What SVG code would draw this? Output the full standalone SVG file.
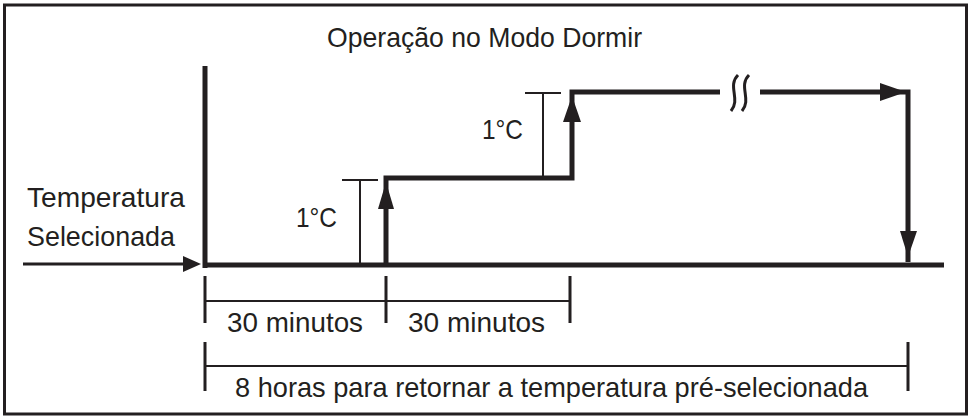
<svg xmlns="http://www.w3.org/2000/svg" width="969" height="417" viewBox="0 0 969 417">
<style>
text{font-family:"Liberation Sans",Arial,sans-serif;fill:#231f20;font-size:28px}
.thick{fill:none;stroke:#231f20;stroke-width:5;stroke-linecap:butt;stroke-linejoin:miter}
.thin{fill:none;stroke:#231f20;stroke-width:2}
.med{fill:none;stroke:#231f20;stroke-width:3}
.head{fill:#231f20}
</style>
<rect x="4.5" y="5" width="962" height="409" fill="#fff" stroke="#231f20" stroke-width="3"/>
<g id="title"><text x="327" y="47" font-size="33" textLength="315" lengthAdjust="spacingAndGlyphs">Operação no Modo Dormir</text></g>
<g id="label-temp">
<text x="27" y="207" textLength="158" lengthAdjust="spacingAndGlyphs">Temperatura</text>
<text x="27" y="246" textLength="148" lengthAdjust="spacingAndGlyphs">Selecionada</text>
</g>
<g id="axes">
<path class="thick" d="M205,66 V268"/>
<path class="thick" d="M205,265 H944"/>
</g>
<g id="connectors">
<path class="med" d="M23,264 H186"/>
<polygon class="head" points="201,264 183,256 183,272"/>
<path class="thick" d="M386,265 V178 H572 V92 H720"/>
<polygon class="head" points="386,182 378,209 394,209"/>
<polygon class="head" points="572,96 563,122 581,122"/>
<path class="thick" d="M760,92 H908 V262"/>
<polygon class="head" points="906,92 880,83 880,101"/>
<polygon class="head" points="908,257 900,231 917,231"/>
<path class="med" d="M738,75 C727,86 741,99 731,111 M749,75 C738,86 752,99 742,111"/>
</g>
<g id="delta1">
<path class="thin" d="M342,180 H378 M360,180 V265"/>
<text x="296" y="227" textLength="41" lengthAdjust="spacingAndGlyphs">1°C</text>
</g>
<g id="delta2">
<path class="thin" d="M525,93 H561 M543,93 V178"/>
<text x="482" y="139" textLength="41" lengthAdjust="spacingAndGlyphs">1°C</text>
</g>
<g id="dim-30min">
<path class="med" d="M205,276 V323 M386,276 V323 M570,276 V323"/>
<path class="thin" d="M205,301 H570"/>
<text x="227" y="332" textLength="136" lengthAdjust="spacingAndGlyphs">30 minutos</text>
<text x="408" y="332" textLength="137" lengthAdjust="spacingAndGlyphs">30 minutos</text>
</g>
<g id="dim-8h">
<path class="med" d="M205,342 V391 M908,342 V391"/>
<path class="thin" d="M205,366 H908"/>
<text x="235" y="397" textLength="633" lengthAdjust="spacingAndGlyphs">8 horas para retornar a temperatura pré-selecionada</text>
</g>
</svg>
